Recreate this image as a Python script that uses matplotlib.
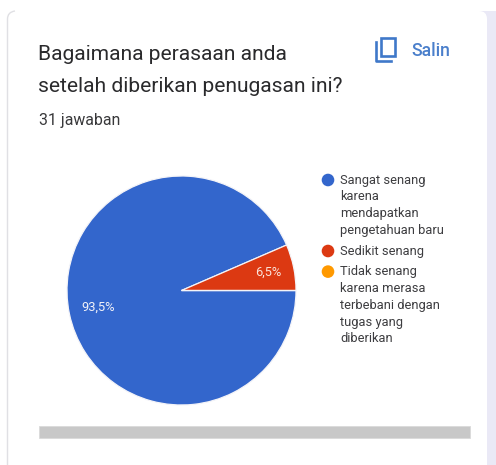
import matplotlib
matplotlib.use("Agg")
import matplotlib.pyplot as plt
from matplotlib.patches import FancyBboxPatch, Rectangle, Circle, PathPatch
from matplotlib.path import Path
from matplotlib.lines import Line2D

W, H = 496, 465

title_lines = ["Bagaimana perasaan anda", "setelah diberikan penugasan ini?"]
response_count = "31 jawaban"
copy_label = "Salin"
shares = [93.5, 6.5, 0.0]
share_labels = ["93,5%", "6,5%"]
colors = ["#3366CC", "#DC3912", "#FF9900"]
legend_entries = [
    ["Sangat senang", "karena", "mendapatkan", "pengetahuan baru"],
    ["Sedikit senang"],
    ["Tidak senang", "karena merasa", "terbebani dengan", "tugas yang", "diberikan"],
]

plt.rcParams["font.family"] = ["Roboto", "DejaVu Sans"]

fig = plt.figure(figsize=(W / 100, H / 100), dpi=100, facecolor="white")

# Page layer, measured in pixels from the top left
page = fig.add_axes([0, 0, 1, 1])
page.set_xlim(0, W)
page.set_ylim(H, 0)
page.axis("off")

# Lavender page strip on the right, then the white card with its rounded corner
page.add_patch(Rectangle((470, 11), 26, H - 11, fc="#EAE9F6", ec="none"))
page.add_patch(FancyBboxPatch((8, 11), 479, 480, boxstyle="round,pad=0,rounding_size=8",
                              fc="white", ec="none"))
# Only the left edge of the card carries a visible border
edge = Path([(7.5, H), (7.5, 19), (7.5, 12), (15, 11)],
            [Path.MOVETO, Path.LINETO, Path.CURVE3, Path.CURVE3])
page.add_patch(PathPatch(edge, fc="none", ec="#E0E0E4", lw=1.0))

page.text(38.5, 54.5, title_lines[0], fontsize=15.15, color="#2A2A2C", va="center", ha="left")
page.text(38.5, 86, title_lines[1], fontsize=15.15, color="#2A2A2C", va="center", ha="left")
page.text(39, 120, response_count, fontsize=11.4, color="#38383A", va="center", ha="left")

# Copy icon
icon = "#3F78C9"
page.add_patch(Rectangle((381, 38), 13.5, 18, fc="none", ec=icon, lw=1.9))
page.add_line(Line2D([375.5, 375.5, 391], [42, 61, 61], color=icon, lw=1.9))
page.text(411, 51, copy_label, fontsize=12.7, color="#4A7FCB", va="center", ha="left",
          fontweight="medium")

# Horizontal scroll bar beneath the chart
page.add_patch(Rectangle((39, 426), 431, 12, fc="#C8C8C8", ec="#DADADA", lw=0.6))

# Legend
row_height = 16.8
y = 180
for entry, color in zip(legend_entries, colors):
    page.add_patch(Circle((328, y), 6.3, fc=color, ec="none"))
    for line in entry:
        page.text(340, y, line, fontsize=9.25, color="#3D3D40", va="center", ha="left")
        y += row_height
    y += 3.8

# Pie chart, with an axes sized so that one data unit equals the radius
cx, cy, r = 181.5, 290.5, 114.5
pie_ax = fig.add_axes([(cx - r) / W, 1 - (cy + r) / H, 2 * r / W, 2 * r / H])
pie_ax.pie(shares, colors=colors, startangle=0, counterclock=False, radius=1,
           wedgeprops={"linewidth": 0.9, "edgecolor": "#F4F4F8"})
pie_ax.set_xlim(-1, 1)
pie_ax.set_ylim(-1, 1)
pie_ax.set_aspect("equal")
pie_ax.patch.set_alpha(0)
page.set_zorder(0)
pie_ax.set_zorder(1)

pie_ax.text((98.5 - cx) / r, (cy - 307) / r, share_labels[0], fontsize=9.3, color="#F2F2F8",
            ha="center", va="center")
pie_ax.text((268 - cx) / r, (cy - 272) / r, share_labels[1], fontsize=9.3, color="#FBE3DA",
            ha="center", va="center")

fig.savefig("out.png", dpi=100)
